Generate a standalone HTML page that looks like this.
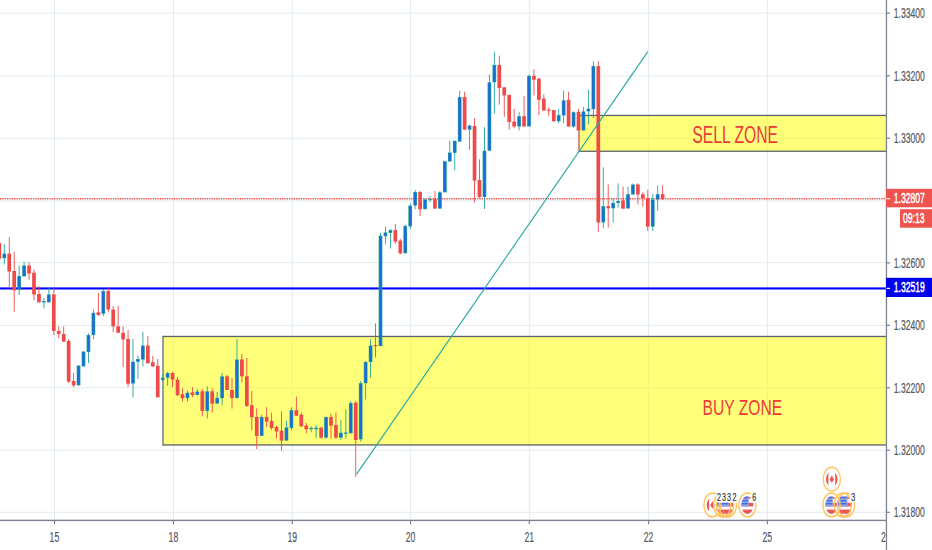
<!DOCTYPE html>
<html><head><meta charset="utf-8"><style>
html,body{margin:0;padding:0;background:#fff;}
body{width:932px;height:550px;overflow:hidden;}
svg{display:block;font-family:"Liberation Sans",sans-serif;}
</style></head><body>
<svg width="932" height="550" viewBox="0 0 932 550">
<rect width="932" height="550" fill="#fff"/>
<rect x="0" y="12.70" width="886" height="1" fill="#e1ecf2"/>
<rect x="0" y="75.50" width="886" height="1" fill="#e1ecf2"/>
<rect x="0" y="137.80" width="886" height="1" fill="#e1ecf2"/>
<rect x="0" y="200.40" width="886" height="1" fill="#e1ecf2"/>
<rect x="0" y="262.10" width="886" height="1" fill="#e1ecf2"/>
<rect x="0" y="324.90" width="886" height="1" fill="#e1ecf2"/>
<rect x="0" y="387.20" width="886" height="1" fill="#e1ecf2"/>
<rect x="0" y="449.70" width="886" height="1" fill="#e1ecf2"/>
<rect x="0" y="511.80" width="886" height="1" fill="#e1ecf2"/>
<rect x="54.00" y="0" width="1" height="520" fill="#e1ecf2"/>
<rect x="173.00" y="0" width="1" height="520" fill="#e1ecf2"/>
<rect x="291.80" y="0" width="1" height="520" fill="#e1ecf2"/>
<rect x="410.10" y="0" width="1" height="520" fill="#e1ecf2"/>
<rect x="528.80" y="0" width="1" height="520" fill="#e1ecf2"/>
<rect x="648.10" y="0" width="1" height="520" fill="#e1ecf2"/>
<rect x="766.90" y="0" width="1" height="520" fill="#e1ecf2"/>
<rect x="163.0" y="336.4" width="723.0" height="108.60000000000002" fill="rgba(255,255,0,0.52)"/>
<rect x="163.0" y="335.79999999999995" width="723.0" height="1.3" fill="#59626e"/>
<rect x="163.0" y="444.3" width="723.0" height="1.3" fill="#59626e"/>
<rect x="162.4" y="335.79999999999995" width="1.2" height="109.80000000000003" fill="#59626e"/>
<rect x="579.0" y="115.4" width="307.0" height="35.900000000000006" fill="rgba(255,255,0,0.52)"/>
<rect x="579.0" y="114.80000000000001" width="307.0" height="1.3" fill="#59626e"/>
<rect x="579.0" y="150.60000000000002" width="307.0" height="1.3" fill="#59626e"/>
<rect x="578.4" y="114.80000000000001" width="1.2" height="37.10000000000001" fill="#59626e"/>
<rect x="0" y="287.4" width="886" height="2.1" fill="#0000ff"/>
<line x1="0" y1="198.7" x2="886" y2="198.7" stroke="#ef4a4a" stroke-width="1.35" stroke-dasharray="1.3 1.05"/>
<rect x="-1.10" y="240.0" width="0.9" height="21.0" fill="#ef4a4a"/>
<rect x="-2.50" y="243.0" width="3.7" height="15.7" fill="#ef4a4a"/>
<rect x="3.85" y="244.0" width="0.9" height="20.5" fill="#26a69a"/>
<rect x="2.45" y="253.6" width="3.7" height="4.6" fill="#26a69a"/>
<rect x="3.05" y="254.1" width="2.50" height="3.6" fill="#1a6dd6"/>
<rect x="8.80" y="237.0" width="0.9" height="50.0" fill="#ef4a4a"/>
<rect x="7.40" y="253.6" width="3.7" height="17.9" fill="#ef4a4a"/>
<rect x="13.75" y="251.8" width="0.9" height="60.0" fill="#ef4a4a"/>
<rect x="12.35" y="271.0" width="3.7" height="19.4" fill="#ef4a4a"/>
<rect x="18.70" y="265.5" width="0.9" height="29.5" fill="#26a69a"/>
<rect x="17.30" y="276.0" width="3.7" height="14.0" fill="#26a69a"/>
<rect x="17.90" y="276.5" width="2.50" height="13.0" fill="#1a6dd6"/>
<rect x="23.65" y="261.8" width="0.9" height="14.6" fill="#26a69a"/>
<rect x="22.25" y="265.5" width="3.7" height="10.9" fill="#26a69a"/>
<rect x="22.85" y="266.0" width="2.50" height="9.9" fill="#1a6dd6"/>
<rect x="28.60" y="262.4" width="0.9" height="17.6" fill="#ef4a4a"/>
<rect x="27.20" y="265.5" width="3.7" height="8.1" fill="#ef4a4a"/>
<rect x="33.55" y="269.6" width="0.9" height="30.4" fill="#ef4a4a"/>
<rect x="32.15" y="272.7" width="3.7" height="21.8" fill="#ef4a4a"/>
<rect x="38.50" y="286.0" width="0.9" height="16.4" fill="#ef4a4a"/>
<rect x="37.10" y="294.0" width="3.7" height="8.4" fill="#ef4a4a"/>
<rect x="43.45" y="298.0" width="0.9" height="10.5" fill="#26a69a"/>
<rect x="42.05" y="301.0" width="3.7" height="1.5" fill="#26a69a"/>
<rect x="42.65" y="301.5" width="2.50" height="0.5" fill="#1a6dd6"/>
<rect x="48.40" y="288.0" width="0.9" height="14.4" fill="#26a69a"/>
<rect x="47.00" y="294.4" width="3.7" height="8.0" fill="#26a69a"/>
<rect x="47.60" y="294.9" width="2.50" height="7.0" fill="#1a6dd6"/>
<rect x="53.35" y="288.0" width="0.9" height="47.0" fill="#ef4a4a"/>
<rect x="51.95" y="294.4" width="3.7" height="36.6" fill="#ef4a4a"/>
<rect x="58.30" y="326.4" width="0.9" height="12.0" fill="#ef4a4a"/>
<rect x="56.90" y="331.0" width="3.7" height="3.0" fill="#ef4a4a"/>
<rect x="63.25" y="326.4" width="0.9" height="15.2" fill="#ef4a4a"/>
<rect x="61.85" y="334.0" width="3.7" height="7.6" fill="#ef4a4a"/>
<rect x="68.20" y="339.0" width="0.9" height="44.0" fill="#ef4a4a"/>
<rect x="66.80" y="341.0" width="3.7" height="40.6" fill="#ef4a4a"/>
<rect x="73.15" y="373.0" width="0.9" height="14.0" fill="#ef4a4a"/>
<rect x="71.75" y="381.0" width="3.7" height="4.4" fill="#ef4a4a"/>
<rect x="78.10" y="365.0" width="0.9" height="20.4" fill="#26a69a"/>
<rect x="76.70" y="365.6" width="3.7" height="19.8" fill="#26a69a"/>
<rect x="77.30" y="366.1" width="2.50" height="18.8" fill="#1a6dd6"/>
<rect x="83.05" y="351.0" width="0.9" height="15.4" fill="#26a69a"/>
<rect x="81.65" y="351.6" width="3.7" height="14.8" fill="#26a69a"/>
<rect x="82.25" y="352.1" width="2.50" height="13.8" fill="#1a6dd6"/>
<rect x="88.00" y="333.5" width="0.9" height="29.5" fill="#26a69a"/>
<rect x="86.60" y="335.0" width="3.7" height="17.0" fill="#26a69a"/>
<rect x="87.20" y="335.5" width="2.50" height="16.0" fill="#1a6dd6"/>
<rect x="92.95" y="309.5" width="0.9" height="29.9" fill="#26a69a"/>
<rect x="91.55" y="312.8" width="3.7" height="22.2" fill="#26a69a"/>
<rect x="92.15" y="313.3" width="2.50" height="21.2" fill="#1a6dd6"/>
<rect x="97.90" y="293.0" width="0.9" height="23.0" fill="#ef4a4a"/>
<rect x="96.50" y="312.3" width="3.7" height="2.7" fill="#ef4a4a"/>
<rect x="102.85" y="289.0" width="0.9" height="27.0" fill="#26a69a"/>
<rect x="101.45" y="291.0" width="3.7" height="22.8" fill="#26a69a"/>
<rect x="102.05" y="291.5" width="2.50" height="21.8" fill="#1a6dd6"/>
<rect x="107.80" y="288.3" width="0.9" height="24.0" fill="#ef4a4a"/>
<rect x="106.40" y="291.0" width="3.7" height="18.5" fill="#ef4a4a"/>
<rect x="112.75" y="306.0" width="0.9" height="26.0" fill="#ef4a4a"/>
<rect x="111.35" y="309.5" width="3.7" height="16.8" fill="#ef4a4a"/>
<rect x="117.70" y="306.0" width="0.9" height="26.8" fill="#ef4a4a"/>
<rect x="116.30" y="326.3" width="3.7" height="6.5" fill="#ef4a4a"/>
<rect x="122.65" y="326.3" width="0.9" height="40.7" fill="#ef4a4a"/>
<rect x="121.25" y="332.8" width="3.7" height="6.6" fill="#ef4a4a"/>
<rect x="127.60" y="329.8" width="0.9" height="57.2" fill="#ef4a4a"/>
<rect x="126.20" y="339.0" width="3.7" height="44.7" fill="#ef4a4a"/>
<rect x="132.55" y="339.0" width="0.9" height="58.5" fill="#26a69a"/>
<rect x="131.15" y="361.7" width="3.7" height="21.8" fill="#26a69a"/>
<rect x="131.75" y="362.2" width="2.50" height="20.8" fill="#1a6dd6"/>
<rect x="137.50" y="355.5" width="0.9" height="23.5" fill="#26a69a"/>
<rect x="136.10" y="359.0" width="3.7" height="2.8" fill="#26a69a"/>
<rect x="136.70" y="359.5" width="2.50" height="1.8" fill="#1a6dd6"/>
<rect x="142.45" y="331.8" width="0.9" height="34.6" fill="#26a69a"/>
<rect x="141.05" y="345.5" width="3.7" height="14.1" fill="#26a69a"/>
<rect x="141.65" y="346.0" width="2.50" height="13.1" fill="#1a6dd6"/>
<rect x="147.40" y="336.0" width="0.9" height="27.3" fill="#ef4a4a"/>
<rect x="146.00" y="345.5" width="3.7" height="17.8" fill="#ef4a4a"/>
<rect x="152.35" y="356.0" width="0.9" height="11.0" fill="#ef4a4a"/>
<rect x="150.95" y="362.2" width="3.7" height="4.2" fill="#ef4a4a"/>
<rect x="157.30" y="359.0" width="0.9" height="38.3" fill="#ef4a4a"/>
<rect x="155.90" y="365.8" width="3.7" height="31.5" fill="#ef4a4a"/>
<rect x="162.25" y="374.5" width="0.9" height="6.5" fill="#26a69a"/>
<rect x="160.85" y="377.8" width="3.7" height="2.2" fill="#26a69a"/>
<rect x="161.45" y="378.3" width="2.50" height="1.2" fill="#1a6dd6"/>
<rect x="167.20" y="371.8" width="0.9" height="14.0" fill="#26a69a"/>
<rect x="165.80" y="373.0" width="3.7" height="4.8" fill="#26a69a"/>
<rect x="166.40" y="373.5" width="2.50" height="3.8" fill="#1a6dd6"/>
<rect x="172.15" y="371.8" width="0.9" height="15.2" fill="#ef4a4a"/>
<rect x="170.75" y="373.0" width="3.7" height="6.6" fill="#ef4a4a"/>
<rect x="177.10" y="377.0" width="0.9" height="19.0" fill="#ef4a4a"/>
<rect x="175.70" y="379.6" width="3.7" height="15.6" fill="#ef4a4a"/>
<rect x="182.05" y="388.2" width="0.9" height="13.3" fill="#ef4a4a"/>
<rect x="180.65" y="394.2" width="3.7" height="4.0" fill="#ef4a4a"/>
<rect x="187.00" y="390.5" width="0.9" height="11.0" fill="#26a69a"/>
<rect x="185.60" y="392.7" width="3.7" height="5.5" fill="#26a69a"/>
<rect x="186.20" y="393.2" width="2.50" height="4.5" fill="#1a6dd6"/>
<rect x="191.95" y="387.0" width="0.9" height="10.3" fill="#ef4a4a"/>
<rect x="190.55" y="392.4" width="3.7" height="2.6" fill="#ef4a4a"/>
<rect x="196.90" y="389.0" width="0.9" height="6.5" fill="#26a69a"/>
<rect x="195.50" y="391.5" width="3.7" height="3.5" fill="#26a69a"/>
<rect x="196.10" y="392.0" width="2.50" height="2.5" fill="#1a6dd6"/>
<rect x="201.85" y="389.0" width="0.9" height="27.4" fill="#ef4a4a"/>
<rect x="200.45" y="391.3" width="3.7" height="19.6" fill="#ef4a4a"/>
<rect x="206.80" y="386.4" width="0.9" height="32.1" fill="#26a69a"/>
<rect x="205.40" y="391.3" width="3.7" height="19.6" fill="#26a69a"/>
<rect x="206.00" y="391.8" width="2.50" height="18.6" fill="#1a6dd6"/>
<rect x="211.75" y="388.2" width="0.9" height="24.2" fill="#ef4a4a"/>
<rect x="210.35" y="391.3" width="3.7" height="12.3" fill="#ef4a4a"/>
<rect x="216.70" y="391.8" width="0.9" height="11.8" fill="#26a69a"/>
<rect x="215.30" y="397.8" width="3.7" height="5.8" fill="#26a69a"/>
<rect x="215.90" y="398.3" width="2.50" height="4.8" fill="#1a6dd6"/>
<rect x="221.65" y="373.0" width="0.9" height="32.5" fill="#26a69a"/>
<rect x="220.25" y="376.4" width="3.7" height="21.8" fill="#26a69a"/>
<rect x="220.85" y="376.9" width="2.50" height="20.8" fill="#1a6dd6"/>
<rect x="226.60" y="374.8" width="0.9" height="15.2" fill="#ef4a4a"/>
<rect x="225.20" y="376.3" width="3.7" height="13.7" fill="#ef4a4a"/>
<rect x="231.55" y="378.0" width="0.9" height="30.6" fill="#ef4a4a"/>
<rect x="230.15" y="390.0" width="3.7" height="8.1" fill="#ef4a4a"/>
<rect x="236.50" y="339.2" width="0.9" height="58.9" fill="#26a69a"/>
<rect x="235.10" y="359.5" width="3.7" height="38.6" fill="#26a69a"/>
<rect x="235.70" y="360.0" width="2.50" height="37.6" fill="#1a6dd6"/>
<rect x="241.45" y="354.0" width="0.9" height="28.4" fill="#ef4a4a"/>
<rect x="240.05" y="359.5" width="3.7" height="16.8" fill="#ef4a4a"/>
<rect x="246.40" y="358.0" width="0.9" height="48.9" fill="#ef4a4a"/>
<rect x="245.00" y="376.3" width="3.7" height="29.7" fill="#ef4a4a"/>
<rect x="251.35" y="391.0" width="0.9" height="39.4" fill="#ef4a4a"/>
<rect x="249.95" y="405.3" width="3.7" height="12.0" fill="#ef4a4a"/>
<rect x="256.30" y="408.2" width="0.9" height="40.8" fill="#ef4a4a"/>
<rect x="254.90" y="416.9" width="3.7" height="19.0" fill="#ef4a4a"/>
<rect x="261.25" y="414.7" width="0.9" height="21.2" fill="#26a69a"/>
<rect x="259.85" y="416.9" width="3.7" height="19.0" fill="#26a69a"/>
<rect x="260.45" y="417.4" width="2.50" height="18.0" fill="#1a6dd6"/>
<rect x="266.20" y="407.2" width="0.9" height="19.8" fill="#ef4a4a"/>
<rect x="264.80" y="416.9" width="3.7" height="4.7" fill="#ef4a4a"/>
<rect x="271.15" y="412.7" width="0.9" height="17.4" fill="#ef4a4a"/>
<rect x="269.75" y="420.9" width="3.7" height="7.1" fill="#ef4a4a"/>
<rect x="276.10" y="425.6" width="0.9" height="13.0" fill="#ef4a4a"/>
<rect x="274.70" y="427.0" width="3.7" height="4.5" fill="#ef4a4a"/>
<rect x="281.05" y="411.3" width="0.9" height="39.3" fill="#ef4a4a"/>
<rect x="279.65" y="430.7" width="3.7" height="9.9" fill="#ef4a4a"/>
<rect x="286.00" y="420.9" width="0.9" height="19.7" fill="#26a69a"/>
<rect x="284.60" y="427.4" width="3.7" height="13.2" fill="#26a69a"/>
<rect x="285.20" y="427.9" width="2.50" height="12.2" fill="#1a6dd6"/>
<rect x="290.95" y="407.2" width="0.9" height="23.2" fill="#26a69a"/>
<rect x="289.55" y="410.2" width="3.7" height="17.8" fill="#26a69a"/>
<rect x="290.15" y="410.7" width="2.50" height="16.8" fill="#1a6dd6"/>
<rect x="295.90" y="396.6" width="0.9" height="19.5" fill="#ef4a4a"/>
<rect x="294.50" y="410.2" width="3.7" height="5.5" fill="#ef4a4a"/>
<rect x="300.85" y="412.4" width="0.9" height="14.6" fill="#ef4a4a"/>
<rect x="299.45" y="414.7" width="3.7" height="11.6" fill="#ef4a4a"/>
<rect x="305.80" y="422.9" width="0.9" height="10.5" fill="#ef4a4a"/>
<rect x="304.40" y="425.6" width="3.7" height="3.7" fill="#ef4a4a"/>
<rect x="310.75" y="426.3" width="0.9" height="5.9" fill="#26a69a"/>
<rect x="309.35" y="427.9" width="3.7" height="1.3" fill="#26a69a"/>
<rect x="309.95" y="428.4" width="2.50" height="0.3" fill="#1a6dd6"/>
<rect x="315.70" y="425.1" width="0.9" height="13.1" fill="#26a69a"/>
<rect x="314.30" y="427.6" width="3.7" height="1.6" fill="#26a69a"/>
<rect x="314.90" y="428.1" width="2.50" height="0.6" fill="#1a6dd6"/>
<rect x="320.65" y="426.8" width="0.9" height="11.9" fill="#ef4a4a"/>
<rect x="319.25" y="427.6" width="3.7" height="10.1" fill="#ef4a4a"/>
<rect x="325.60" y="416.5" width="0.9" height="22.2" fill="#26a69a"/>
<rect x="324.20" y="417.0" width="3.7" height="20.7" fill="#26a69a"/>
<rect x="324.80" y="417.5" width="2.50" height="19.7" fill="#1a6dd6"/>
<rect x="330.55" y="413.7" width="0.9" height="25.0" fill="#ef4a4a"/>
<rect x="329.15" y="417.0" width="3.7" height="8.6" fill="#ef4a4a"/>
<rect x="335.50" y="412.5" width="0.9" height="26.2" fill="#ef4a4a"/>
<rect x="334.10" y="425.1" width="3.7" height="12.6" fill="#ef4a4a"/>
<rect x="340.45" y="420.2" width="0.9" height="19.6" fill="#26a69a"/>
<rect x="339.05" y="432.8" width="3.7" height="4.9" fill="#26a69a"/>
<rect x="339.65" y="433.3" width="2.50" height="3.9" fill="#1a6dd6"/>
<rect x="345.40" y="409.3" width="0.9" height="29.4" fill="#26a69a"/>
<rect x="344.00" y="432.5" width="3.7" height="1.3" fill="#26a69a"/>
<rect x="344.60" y="433.0" width="2.50" height="0.3" fill="#1a6dd6"/>
<rect x="350.35" y="401.1" width="0.9" height="32.2" fill="#26a69a"/>
<rect x="348.95" y="403.0" width="3.7" height="30.3" fill="#26a69a"/>
<rect x="349.55" y="403.5" width="2.50" height="29.3" fill="#1a6dd6"/>
<rect x="355.30" y="401.0" width="0.9" height="76.0" fill="#ef4a4a"/>
<rect x="353.90" y="402.7" width="3.7" height="37.3" fill="#ef4a4a"/>
<rect x="360.25" y="381.0" width="0.9" height="60.6" fill="#26a69a"/>
<rect x="358.85" y="383.2" width="3.7" height="56.1" fill="#26a69a"/>
<rect x="359.45" y="383.7" width="2.50" height="55.1" fill="#1a6dd6"/>
<rect x="365.20" y="361.0" width="0.9" height="38.5" fill="#26a69a"/>
<rect x="363.80" y="362.0" width="3.7" height="21.2" fill="#26a69a"/>
<rect x="364.40" y="362.5" width="2.50" height="20.2" fill="#1a6dd6"/>
<rect x="370.15" y="339.3" width="0.9" height="38.7" fill="#26a69a"/>
<rect x="368.75" y="345.5" width="3.7" height="16.5" fill="#26a69a"/>
<rect x="369.35" y="346.0" width="2.50" height="15.5" fill="#1a6dd6"/>
<rect x="375.10" y="323.4" width="0.9" height="34.1" fill="#ef4a4a"/>
<rect x="373.70" y="345.0" width="3.7" height="1.1" fill="#ef4a4a"/>
<rect x="380.05" y="232.8" width="0.9" height="113.3" fill="#26a69a"/>
<rect x="378.65" y="235.6" width="3.7" height="110.5" fill="#26a69a"/>
<rect x="379.25" y="236.1" width="2.50" height="109.5" fill="#1a6dd6"/>
<rect x="385.00" y="226.4" width="0.9" height="17.9" fill="#26a69a"/>
<rect x="383.60" y="232.4" width="3.7" height="3.8" fill="#26a69a"/>
<rect x="384.20" y="232.9" width="2.50" height="2.8" fill="#1a6dd6"/>
<rect x="389.95" y="229.2" width="0.9" height="19.2" fill="#26a69a"/>
<rect x="388.55" y="230.1" width="3.7" height="2.8" fill="#26a69a"/>
<rect x="389.15" y="230.6" width="2.50" height="1.8" fill="#1a6dd6"/>
<rect x="394.90" y="223.9" width="0.9" height="19.6" fill="#ef4a4a"/>
<rect x="393.50" y="230.1" width="3.7" height="11.5" fill="#ef4a4a"/>
<rect x="399.85" y="239.0" width="0.9" height="15.2" fill="#ef4a4a"/>
<rect x="398.45" y="240.6" width="3.7" height="12.7" fill="#ef4a4a"/>
<rect x="404.80" y="224.7" width="0.9" height="28.6" fill="#26a69a"/>
<rect x="403.40" y="225.9" width="3.7" height="27.4" fill="#26a69a"/>
<rect x="404.00" y="226.4" width="2.50" height="26.4" fill="#1a6dd6"/>
<rect x="409.75" y="203.5" width="0.9" height="25.7" fill="#26a69a"/>
<rect x="408.35" y="205.6" width="3.7" height="20.8" fill="#26a69a"/>
<rect x="408.95" y="206.1" width="2.50" height="19.8" fill="#1a6dd6"/>
<rect x="414.70" y="190.0" width="0.9" height="19.2" fill="#26a69a"/>
<rect x="413.30" y="192.0" width="3.7" height="13.6" fill="#26a69a"/>
<rect x="413.90" y="192.5" width="2.50" height="12.6" fill="#1a6dd6"/>
<rect x="419.65" y="190.9" width="0.9" height="25.2" fill="#ef4a4a"/>
<rect x="418.25" y="192.0" width="3.7" height="17.2" fill="#ef4a4a"/>
<rect x="424.60" y="198.6" width="0.9" height="10.6" fill="#26a69a"/>
<rect x="423.20" y="199.4" width="3.7" height="9.8" fill="#26a69a"/>
<rect x="423.80" y="199.9" width="2.50" height="8.8" fill="#1a6dd6"/>
<rect x="429.55" y="196.1" width="0.9" height="6.1" fill="#26a69a"/>
<rect x="428.15" y="199.0" width="3.7" height="1.2" fill="#26a69a"/>
<rect x="434.50" y="190.9" width="0.9" height="17.7" fill="#ef4a4a"/>
<rect x="433.10" y="199.0" width="3.7" height="9.6" fill="#ef4a4a"/>
<rect x="439.45" y="190.9" width="0.9" height="17.7" fill="#26a69a"/>
<rect x="438.05" y="192.3" width="3.7" height="16.3" fill="#26a69a"/>
<rect x="438.65" y="192.8" width="2.50" height="15.3" fill="#1a6dd6"/>
<rect x="444.40" y="160.7" width="0.9" height="31.6" fill="#26a69a"/>
<rect x="443.00" y="161.2" width="3.7" height="31.1" fill="#26a69a"/>
<rect x="443.60" y="161.7" width="2.50" height="30.1" fill="#1a6dd6"/>
<rect x="449.35" y="140.8" width="0.9" height="20.7" fill="#26a69a"/>
<rect x="447.95" y="152.5" width="3.7" height="9.0" fill="#26a69a"/>
<rect x="448.55" y="153.0" width="2.50" height="8.0" fill="#1a6dd6"/>
<rect x="454.30" y="140.4" width="0.9" height="29.8" fill="#26a69a"/>
<rect x="452.90" y="140.8" width="3.7" height="12.1" fill="#26a69a"/>
<rect x="453.50" y="141.3" width="2.50" height="11.1" fill="#1a6dd6"/>
<rect x="459.25" y="90.8" width="0.9" height="50.8" fill="#26a69a"/>
<rect x="457.85" y="97.0" width="3.7" height="44.6" fill="#26a69a"/>
<rect x="458.45" y="97.5" width="2.50" height="43.6" fill="#1a6dd6"/>
<rect x="464.20" y="91.6" width="0.9" height="38.0" fill="#ef4a4a"/>
<rect x="462.80" y="97.0" width="3.7" height="32.6" fill="#ef4a4a"/>
<rect x="469.15" y="124.7" width="0.9" height="25.1" fill="#26a69a"/>
<rect x="467.75" y="125.5" width="3.7" height="4.1" fill="#26a69a"/>
<rect x="468.35" y="126.0" width="2.50" height="3.1" fill="#1a6dd6"/>
<rect x="474.10" y="118.4" width="0.9" height="84.0" fill="#ef4a4a"/>
<rect x="472.70" y="126.0" width="3.7" height="54.6" fill="#ef4a4a"/>
<rect x="479.05" y="159.4" width="0.9" height="38.6" fill="#ef4a4a"/>
<rect x="477.65" y="180.0" width="3.7" height="17.0" fill="#ef4a4a"/>
<rect x="484.00" y="127.1" width="0.9" height="81.9" fill="#26a69a"/>
<rect x="482.60" y="150.7" width="3.7" height="46.3" fill="#26a69a"/>
<rect x="483.20" y="151.2" width="2.50" height="45.3" fill="#1a6dd6"/>
<rect x="488.95" y="74.4" width="0.9" height="76.3" fill="#26a69a"/>
<rect x="487.55" y="82.3" width="3.7" height="68.4" fill="#26a69a"/>
<rect x="488.15" y="82.8" width="2.50" height="67.4" fill="#1a6dd6"/>
<rect x="493.90" y="51.9" width="0.9" height="61.7" fill="#26a69a"/>
<rect x="492.50" y="64.9" width="3.7" height="17.4" fill="#26a69a"/>
<rect x="493.10" y="65.4" width="2.50" height="16.4" fill="#1a6dd6"/>
<rect x="498.85" y="55.7" width="0.9" height="49.0" fill="#ef4a4a"/>
<rect x="497.45" y="65.0" width="3.7" height="22.9" fill="#ef4a4a"/>
<rect x="503.80" y="87.3" width="0.9" height="29.7" fill="#ef4a4a"/>
<rect x="502.40" y="87.3" width="3.7" height="8.1" fill="#ef4a4a"/>
<rect x="508.75" y="94.9" width="0.9" height="34.8" fill="#ef4a4a"/>
<rect x="507.35" y="94.9" width="3.7" height="27.0" fill="#ef4a4a"/>
<rect x="513.70" y="108.8" width="0.9" height="19.3" fill="#ef4a4a"/>
<rect x="512.30" y="121.6" width="3.7" height="4.9" fill="#ef4a4a"/>
<rect x="518.65" y="112.1" width="0.9" height="18.3" fill="#26a69a"/>
<rect x="517.25" y="116.2" width="3.7" height="10.3" fill="#26a69a"/>
<rect x="517.85" y="116.7" width="2.50" height="9.3" fill="#1a6dd6"/>
<rect x="523.60" y="96.1" width="0.9" height="30.4" fill="#ef4a4a"/>
<rect x="522.20" y="116.2" width="3.7" height="10.3" fill="#ef4a4a"/>
<rect x="528.55" y="74.5" width="0.9" height="52.0" fill="#26a69a"/>
<rect x="527.15" y="75.8" width="3.7" height="50.7" fill="#26a69a"/>
<rect x="527.75" y="76.3" width="2.50" height="49.7" fill="#1a6dd6"/>
<rect x="533.50" y="69.3" width="0.9" height="26.1" fill="#ef4a4a"/>
<rect x="532.10" y="75.8" width="3.7" height="3.9" fill="#ef4a4a"/>
<rect x="538.45" y="77.8" width="0.9" height="37.2" fill="#ef4a4a"/>
<rect x="537.05" y="78.6" width="3.7" height="21.2" fill="#ef4a4a"/>
<rect x="543.40" y="94.4" width="0.9" height="16.1" fill="#ef4a4a"/>
<rect x="542.00" y="98.7" width="3.7" height="11.8" fill="#ef4a4a"/>
<rect x="548.35" y="107.4" width="0.9" height="8.3" fill="#ef4a4a"/>
<rect x="546.95" y="109.6" width="3.7" height="1.2" fill="#ef4a4a"/>
<rect x="553.30" y="110.1" width="0.9" height="11.9" fill="#ef4a4a"/>
<rect x="551.90" y="110.1" width="3.7" height="11.1" fill="#ef4a4a"/>
<rect x="558.25" y="108.9" width="0.9" height="14.4" fill="#26a69a"/>
<rect x="556.85" y="115.1" width="3.7" height="6.1" fill="#26a69a"/>
<rect x="557.45" y="115.6" width="2.50" height="5.1" fill="#1a6dd6"/>
<rect x="563.20" y="90.6" width="0.9" height="32.7" fill="#26a69a"/>
<rect x="561.80" y="100.4" width="3.7" height="15.1" fill="#26a69a"/>
<rect x="562.40" y="100.9" width="2.50" height="14.1" fill="#1a6dd6"/>
<rect x="568.15" y="91.8" width="0.9" height="34.8" fill="#ef4a4a"/>
<rect x="566.75" y="99.9" width="3.7" height="26.7" fill="#ef4a4a"/>
<rect x="573.10" y="111.4" width="0.9" height="16.3" fill="#26a69a"/>
<rect x="571.70" y="112.2" width="3.7" height="14.4" fill="#26a69a"/>
<rect x="572.30" y="112.7" width="2.50" height="13.4" fill="#1a6dd6"/>
<rect x="578.05" y="108.9" width="0.9" height="21.6" fill="#ef4a4a"/>
<rect x="576.65" y="111.9" width="3.7" height="18.6" fill="#ef4a4a"/>
<rect x="583.00" y="107.0" width="0.9" height="23.5" fill="#26a69a"/>
<rect x="581.60" y="111.4" width="3.7" height="19.1" fill="#26a69a"/>
<rect x="582.20" y="111.9" width="2.50" height="18.1" fill="#1a6dd6"/>
<rect x="587.95" y="89.6" width="0.9" height="34.8" fill="#26a69a"/>
<rect x="586.55" y="108.6" width="3.7" height="2.8" fill="#26a69a"/>
<rect x="587.15" y="109.1" width="2.50" height="1.8" fill="#1a6dd6"/>
<rect x="592.90" y="61.2" width="0.9" height="56.7" fill="#26a69a"/>
<rect x="591.50" y="66.1" width="3.7" height="43.1" fill="#26a69a"/>
<rect x="592.10" y="66.6" width="2.50" height="42.1" fill="#1a6dd6"/>
<rect x="597.85" y="61.2" width="0.9" height="170.8" fill="#ef4a4a"/>
<rect x="596.45" y="66.1" width="3.7" height="156.4" fill="#ef4a4a"/>
<rect x="602.80" y="167.3" width="0.9" height="61.0" fill="#26a69a"/>
<rect x="601.40" y="206.2" width="3.7" height="16.3" fill="#26a69a"/>
<rect x="602.00" y="206.7" width="2.50" height="15.3" fill="#1a6dd6"/>
<rect x="607.75" y="184.4" width="0.9" height="43.2" fill="#ef4a4a"/>
<rect x="606.35" y="206.2" width="3.7" height="2.1" fill="#ef4a4a"/>
<rect x="612.70" y="198.5" width="0.9" height="24.0" fill="#26a69a"/>
<rect x="611.30" y="202.9" width="3.7" height="5.4" fill="#26a69a"/>
<rect x="611.90" y="203.4" width="2.50" height="4.4" fill="#1a6dd6"/>
<rect x="617.65" y="183.3" width="0.9" height="24.4" fill="#26a69a"/>
<rect x="616.25" y="201.0" width="3.7" height="1.9" fill="#26a69a"/>
<rect x="616.85" y="201.5" width="2.50" height="0.9" fill="#1a6dd6"/>
<rect x="622.60" y="186.6" width="0.9" height="22.1" fill="#ef4a4a"/>
<rect x="621.20" y="200.4" width="3.7" height="8.3" fill="#ef4a4a"/>
<rect x="627.55" y="186.6" width="0.9" height="21.9" fill="#26a69a"/>
<rect x="626.15" y="194.2" width="3.7" height="14.3" fill="#26a69a"/>
<rect x="626.75" y="194.7" width="2.50" height="13.3" fill="#1a6dd6"/>
<rect x="632.50" y="183.4" width="0.9" height="11.1" fill="#26a69a"/>
<rect x="631.10" y="184.5" width="3.7" height="10.0" fill="#26a69a"/>
<rect x="631.70" y="185.0" width="2.50" height="9.0" fill="#1a6dd6"/>
<rect x="637.45" y="183.4" width="0.9" height="21.0" fill="#ef4a4a"/>
<rect x="636.05" y="184.5" width="3.7" height="10.0" fill="#ef4a4a"/>
<rect x="642.40" y="192.3" width="0.9" height="14.3" fill="#ef4a4a"/>
<rect x="641.00" y="194.2" width="3.7" height="4.0" fill="#ef4a4a"/>
<rect x="647.35" y="189.7" width="0.9" height="41.3" fill="#ef4a4a"/>
<rect x="645.95" y="198.2" width="3.7" height="28.4" fill="#ef4a4a"/>
<rect x="652.30" y="194.2" width="0.9" height="36.8" fill="#26a69a"/>
<rect x="650.90" y="199.5" width="3.7" height="27.1" fill="#26a69a"/>
<rect x="651.50" y="200.0" width="2.50" height="26.1" fill="#1a6dd6"/>
<rect x="657.25" y="185.5" width="0.9" height="25.2" fill="#26a69a"/>
<rect x="655.85" y="194.2" width="3.7" height="5.3" fill="#26a69a"/>
<rect x="656.45" y="194.7" width="2.50" height="4.3" fill="#1a6dd6"/>
<rect x="662.20" y="185.3" width="0.9" height="14.6" fill="#ef4a4a"/>
<rect x="660.80" y="194.2" width="3.7" height="4.4" fill="#ef4a4a"/>
<rect x="578.3" y="130.5" width="1.4" height="20.3" fill="#f08a8a"/>
<line x1="356.6" y1="474.2" x2="647.8" y2="51.6" stroke="#28aaa4" stroke-width="1.15"/>
<text transform="translate(692.2,142.7) scale(0.675,1)" font-size="23.3" fill="#ee3a3a">SELL ZONE</text>
<text transform="translate(702.6,415.4) scale(0.733,1)" font-size="21.3" fill="#ee3a3a">BUY ZONE</text>
<ellipse cx="712.5" cy="505.0" rx="8" ry="11.5" fill="#fafbfc"/>
<clipPath id="k1"><ellipse cx="712.5" cy="505.0" rx="5.8" ry="7.6"/></clipPath>
<g clip-path="url(#k1)"><rect x="706.5" y="496.0" width="2.6" height="18" fill="#ee5555"/><rect x="715.9" y="496.0" width="2.6" height="18" fill="#ee5555"/></g>
<path d="M712.5 501.2 L714.8 505.2 L712.5 508.6 L710.2 505.2 Z" fill="#ee5555"/>
<clipPath id="k2"><ellipse cx="722.2" cy="505.0" rx="6.0" ry="8.9"/></clipPath>
<g clip-path="url(#k2)"><rect x="714.2" y="495.0" width="16" height="20" fill="#fbfbfd"/><rect x="714.2" y="496.5" width="16" height="2.2" fill="#ee5555"/><rect x="714.2" y="502.8" width="16" height="3.6" fill="#ee5555"/><rect x="714.2" y="509.6" width="16" height="5" fill="#ee5555"/><rect x="714.2" y="495.0" width="9.4" height="11.6" fill="#9aa1dc"/><rect x="716.0" y="497.2" width="6.6" height="1.15" fill="#2266ee"/><rect x="716.0" y="500.2" width="6.6" height="1.15" fill="#2266ee"/><rect x="716.0" y="503.2" width="6.6" height="1.15" fill="#2266ee"/></g>
<clipPath id="k3"><ellipse cx="725.0" cy="505.0" rx="6.0" ry="8.9"/></clipPath>
<g clip-path="url(#k3)"><rect x="717.0" y="495.0" width="16" height="20" fill="#fbfbfd"/><rect x="717.0" y="496.5" width="16" height="2.2" fill="#ee5555"/><rect x="717.0" y="502.8" width="16" height="3.6" fill="#ee5555"/><rect x="717.0" y="509.6" width="16" height="5" fill="#ee5555"/><rect x="717.0" y="495.0" width="9.4" height="11.6" fill="#9aa1dc"/><rect x="718.8" y="497.2" width="6.6" height="1.15" fill="#2266ee"/><rect x="718.8" y="500.2" width="6.6" height="1.15" fill="#2266ee"/><rect x="718.8" y="503.2" width="6.6" height="1.15" fill="#2266ee"/></g>
<clipPath id="k4"><ellipse cx="727.8" cy="505.0" rx="6.0" ry="8.9"/></clipPath>
<g clip-path="url(#k4)"><rect x="719.8" y="495.0" width="16" height="20" fill="#fbfbfd"/><rect x="719.8" y="496.5" width="16" height="2.2" fill="#ee5555"/><rect x="719.8" y="502.8" width="16" height="3.6" fill="#ee5555"/><rect x="719.8" y="509.6" width="16" height="5" fill="#ee5555"/><rect x="719.8" y="495.0" width="9.4" height="11.6" fill="#9aa1dc"/><rect x="721.5999999999999" y="497.2" width="6.6" height="1.15" fill="#2266ee"/><rect x="721.5999999999999" y="500.2" width="6.6" height="1.15" fill="#2266ee"/><rect x="721.5999999999999" y="503.2" width="6.6" height="1.15" fill="#2266ee"/></g>
<ellipse cx="712.5" cy="505.0" rx="8.6" ry="12.0" fill="none" stroke="#ffc45a" stroke-width="1.35"/>
<ellipse cx="722.2" cy="505.0" rx="8.6" ry="12.0" fill="none" stroke="#ffc45a" stroke-width="1.35"/>
<ellipse cx="725.0" cy="505.0" rx="8.6" ry="12.0" fill="none" stroke="#ffc45a" stroke-width="1.35"/>
<ellipse cx="727.8" cy="505.0" rx="8.6" ry="12.0" fill="none" stroke="#ffc45a" stroke-width="1.35"/>
<rect x="716.3" y="490.0" width="21.5" height="12.5" fill="#ffffff"/>
<text transform="translate(716.9,501.0) scale(0.62,1)" font-size="11.6" fill="#333438" stroke="#333438" stroke-width="0.2">2</text>
<text transform="translate(722.0,501.0) scale(0.62,1)" font-size="11.6" fill="#333438" stroke="#333438" stroke-width="0.2">3</text>
<text transform="translate(726.9,501.0) scale(0.62,1)" font-size="11.6" fill="#333438" stroke="#333438" stroke-width="0.2">3</text>
<text transform="translate(732.4,501.0) scale(0.62,1)" font-size="11.6" fill="#333438" stroke="#333438" stroke-width="0.2">2</text>
<clipPath id="k5"><ellipse cx="747.4" cy="505.0" rx="6.0" ry="8.9"/></clipPath>
<g clip-path="url(#k5)"><rect x="739.4" y="495.0" width="16" height="20" fill="#fbfbfd"/><rect x="739.4" y="496.5" width="16" height="2.2" fill="#ee5555"/><rect x="739.4" y="502.8" width="16" height="3.6" fill="#ee5555"/><rect x="739.4" y="509.6" width="16" height="5" fill="#ee5555"/><rect x="739.4" y="495.0" width="9.4" height="11.6" fill="#9aa1dc"/><rect x="741.1999999999999" y="497.2" width="6.6" height="1.15" fill="#2266ee"/><rect x="741.1999999999999" y="500.2" width="6.6" height="1.15" fill="#2266ee"/><rect x="741.1999999999999" y="503.2" width="6.6" height="1.15" fill="#2266ee"/></g>
<ellipse cx="747.4" cy="505.0" rx="8.6" ry="12.0" fill="none" stroke="#ffc45a" stroke-width="1.35"/>
<rect x="750.8" y="489.5" width="8.0" height="13.0" fill="#ffffff"/>
<text transform="translate(752.2,500.9) scale(0.62,1)" font-size="11.6" fill="#333438" stroke="#333438" stroke-width="0.2">6</text>
<ellipse cx="831.8" cy="479.2" rx="8" ry="11.5" fill="#fafbfc"/>
<clipPath id="k6"><ellipse cx="831.8" cy="479.2" rx="5.8" ry="7.6"/></clipPath>
<g clip-path="url(#k6)"><rect x="825.8" y="470.2" width="2.6" height="18" fill="#ee5555"/><rect x="835.1999999999999" y="470.2" width="2.6" height="18" fill="#ee5555"/></g>
<path d="M831.8 475.4 L834.0999999999999 479.4 L831.8 482.8 L829.5 479.4 Z" fill="#ee5555"/>
<clipPath id="k7"><ellipse cx="831.5" cy="505.0" rx="6.0" ry="8.9"/></clipPath>
<g clip-path="url(#k7)"><rect x="823.5" y="495.0" width="16" height="20" fill="#fbfbfd"/><rect x="823.5" y="496.5" width="16" height="2.2" fill="#ee5555"/><rect x="823.5" y="502.8" width="16" height="3.6" fill="#ee5555"/><rect x="823.5" y="509.6" width="16" height="5" fill="#ee5555"/><rect x="823.5" y="495.0" width="9.4" height="11.6" fill="#9aa1dc"/><rect x="825.3" y="497.2" width="6.6" height="1.15" fill="#2266ee"/><rect x="825.3" y="500.2" width="6.6" height="1.15" fill="#2266ee"/><rect x="825.3" y="503.2" width="6.6" height="1.15" fill="#2266ee"/></g>
<clipPath id="k8"><ellipse cx="842.8" cy="505.0" rx="6.0" ry="8.9"/></clipPath>
<g clip-path="url(#k8)"><rect x="834.8" y="495.0" width="16" height="20" fill="#fbfbfd"/><rect x="834.8" y="496.5" width="16" height="2.2" fill="#ee5555"/><rect x="834.8" y="502.8" width="16" height="3.6" fill="#ee5555"/><rect x="834.8" y="509.6" width="16" height="5" fill="#ee5555"/><rect x="834.8" y="495.0" width="9.4" height="11.6" fill="#9aa1dc"/><rect x="836.5999999999999" y="497.2" width="6.6" height="1.15" fill="#2266ee"/><rect x="836.5999999999999" y="500.2" width="6.6" height="1.15" fill="#2266ee"/><rect x="836.5999999999999" y="503.2" width="6.6" height="1.15" fill="#2266ee"/></g>
<clipPath id="k9"><ellipse cx="846.0" cy="505.0" rx="6.0" ry="8.9"/></clipPath>
<g clip-path="url(#k9)"><rect x="838.0" y="495.0" width="16" height="20" fill="#fbfbfd"/><rect x="838.0" y="496.5" width="16" height="2.2" fill="#ee5555"/><rect x="838.0" y="502.8" width="16" height="3.6" fill="#ee5555"/><rect x="838.0" y="509.6" width="16" height="5" fill="#ee5555"/><rect x="838.0" y="495.0" width="9.4" height="11.6" fill="#9aa1dc"/><rect x="839.8" y="497.2" width="6.6" height="1.15" fill="#2266ee"/><rect x="839.8" y="500.2" width="6.6" height="1.15" fill="#2266ee"/><rect x="839.8" y="503.2" width="6.6" height="1.15" fill="#2266ee"/></g>
<ellipse cx="831.8" cy="479.2" rx="8.6" ry="12.0" fill="none" stroke="#ffc45a" stroke-width="1.35"/>
<ellipse cx="831.5" cy="505.0" rx="8.6" ry="12.0" fill="none" stroke="#ffc45a" stroke-width="1.35"/>
<ellipse cx="842.8" cy="505.0" rx="8.6" ry="12.0" fill="none" stroke="#ffc45a" stroke-width="1.35"/>
<ellipse cx="846.0" cy="505.0" rx="8.6" ry="12.0" fill="none" stroke="#ffc45a" stroke-width="1.35"/>
<rect x="850.0" y="489.5" width="7.5" height="12.5" fill="#ffffff"/>
<text transform="translate(851.2,500.6) scale(0.62,1)" font-size="11.6" fill="#333438" stroke="#333438" stroke-width="0.2">3</text>
<rect x="885.8" y="0" width="1.3" height="550" fill="#7d8290"/>
<rect x="0" y="519.7" width="886" height="1.4" fill="#7d8290"/>
<rect x="886" y="0" width="46" height="550" fill="none"/>
<rect x="886.5" y="12.6" width="3.5" height="1.2" fill="#7d8290"/>
<text transform="translate(893.7,18.0) scale(0.6,1)" font-size="14.4" fill="#55585e" stroke="#55585e" stroke-width="0.2">1.33400</text>
<rect x="886.5" y="75.2" width="3.5" height="1.2" fill="#7d8290"/>
<text transform="translate(893.7,80.6) scale(0.6,1)" font-size="14.4" fill="#55585e" stroke="#55585e" stroke-width="0.2">1.33200</text>
<rect x="886.5" y="137.6" width="3.5" height="1.2" fill="#7d8290"/>
<text transform="translate(893.7,143.0) scale(0.6,1)" font-size="14.4" fill="#55585e" stroke="#55585e" stroke-width="0.2">1.33000</text>
<rect x="886.5" y="262.3" width="3.5" height="1.2" fill="#7d8290"/>
<text transform="translate(893.7,267.7) scale(0.6,1)" font-size="14.4" fill="#55585e" stroke="#55585e" stroke-width="0.2">1.32600</text>
<rect x="886.5" y="324.8" width="3.5" height="1.2" fill="#7d8290"/>
<text transform="translate(893.7,330.2) scale(0.6,1)" font-size="14.4" fill="#55585e" stroke="#55585e" stroke-width="0.2">1.32400</text>
<rect x="886.5" y="387.1" width="3.5" height="1.2" fill="#7d8290"/>
<text transform="translate(893.7,392.5) scale(0.6,1)" font-size="14.4" fill="#55585e" stroke="#55585e" stroke-width="0.2">1.32200</text>
<rect x="886.5" y="449.6" width="3.5" height="1.2" fill="#7d8290"/>
<text transform="translate(893.7,455.0) scale(0.6,1)" font-size="14.4" fill="#55585e" stroke="#55585e" stroke-width="0.2">1.32000</text>
<rect x="886.5" y="511.7" width="3.5" height="1.2" fill="#7d8290"/>
<text transform="translate(893.7,517.0999999999999) scale(0.6,1)" font-size="14.4" fill="#55585e" stroke="#55585e" stroke-width="0.2">1.31800</text>
<rect x="886" y="188.8" width="46" height="18.5" fill="#ef5350"/>
<rect x="900" y="209.2" width="32" height="18.5" fill="#ef5350"/>
<rect x="886.5" y="198.1" width="3.5" height="1.2" fill="#ffffff"/>
<text transform="translate(893.7,202.6) scale(0.6,1)" font-size="14.4" fill="#ffffff" stroke="#ffffff" stroke-width="0.5">1.32807</text>
<text transform="translate(902.9,222.6) scale(0.6,1)" font-size="14.4" fill="#ffffff" stroke="#ffffff" stroke-width="0.5">09:13</text>
<rect x="886" y="277.8" width="46" height="19.2" fill="#0000ee"/>
<rect x="886.5" y="287.8" width="3.5" height="1.2" fill="#ffffff"/>
<text transform="translate(893.7,292.4) scale(0.6,1)" font-size="14.4" fill="#ffffff" stroke="#ffffff" stroke-width="0.5">1.32519</text>
<rect x="53.9" y="520.5" width="1.2" height="3.8" fill="#7d8290"/>
<text transform="translate(49.59616,542.1) scale(0.6,1)" font-size="14.4" fill="#55585e" stroke="#55585e" stroke-width="0.2">15</text>
<rect x="172.9" y="520.5" width="1.2" height="3.8" fill="#7d8290"/>
<text transform="translate(168.59616,542.1) scale(0.6,1)" font-size="14.4" fill="#55585e" stroke="#55585e" stroke-width="0.2">18</text>
<rect x="291.7" y="520.5" width="1.2" height="3.8" fill="#7d8290"/>
<text transform="translate(287.39616,542.1) scale(0.6,1)" font-size="14.4" fill="#55585e" stroke="#55585e" stroke-width="0.2">19</text>
<rect x="410.0" y="520.5" width="1.2" height="3.8" fill="#7d8290"/>
<text transform="translate(405.69616,542.1) scale(0.6,1)" font-size="14.4" fill="#55585e" stroke="#55585e" stroke-width="0.2">20</text>
<rect x="528.7" y="520.5" width="1.2" height="3.8" fill="#7d8290"/>
<text transform="translate(524.3961599999999,542.1) scale(0.6,1)" font-size="14.4" fill="#55585e" stroke="#55585e" stroke-width="0.2">21</text>
<rect x="648.0" y="520.5" width="1.2" height="3.8" fill="#7d8290"/>
<text transform="translate(643.69616,542.1) scale(0.6,1)" font-size="14.4" fill="#55585e" stroke="#55585e" stroke-width="0.2">22</text>
<rect x="766.8" y="520.5" width="1.2" height="3.8" fill="#7d8290"/>
<text transform="translate(762.4961599999999,542.1) scale(0.6,1)" font-size="14.4" fill="#55585e" stroke="#55585e" stroke-width="0.2">25</text>
<text transform="translate(881.0,542.1) scale(0.6,1)" font-size="14.4" fill="#55585e" stroke="#55585e" stroke-width="0.2">2</text>
</svg>
</body></html>
